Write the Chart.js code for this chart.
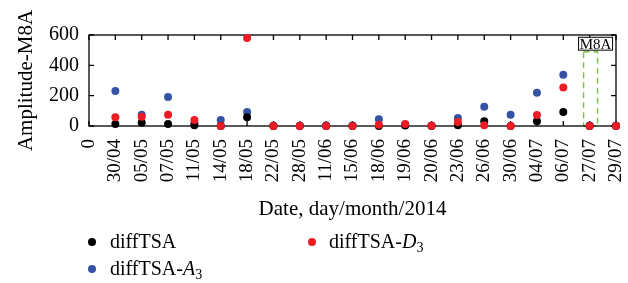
<!DOCTYPE html>
<html>
<head>
<meta charset="utf-8">
<script src="https://cdn.jsdelivr.net/npm/chart.js@4.4.1/dist/chart.umd.min.js"></script>
<style>
  html, body { margin: 0; padding: 0; background: #fff; }
  #wrap { position: relative; width: 628px; height: 283px; overflow: hidden; }
  canvas { position: absolute; left: 0; top: 0; }
  .lg { position: absolute; font: 20px/1 'Liberation Serif', 'Times New Roman', serif; color: #000; white-space: nowrap; }
  .dot { position: absolute; width: 8px; height: 8px; border-radius: 50%; }
  .sub { font-size: 14px; position: relative; top: 4px; }
</style>
</head>
<body>
<div id="wrap">
  <canvas id="c" width="628" height="283"></canvas>
  <div class="dot" style="left:88px;top:238px;background:#000;"></div>
  <div class="lg" style="left:110px;top:231px;">diffTSA</div>
  <div class="dot" style="left:308px;top:238px;background:#ed1c24;"></div>
  <div class="lg" style="left:329px;top:231px;">diffTSA-<i>D</i><span class="sub">3</span></div>
  <div class="dot" style="left:88px;top:265px;background:#3652a4;"></div>
  <div class="lg" style="left:110px;top:258px;">diffTSA-<i>A</i><span class="sub">3</span></div>
</div>
<script>
// ---- data ----
const categories = ['0','30/04','05/05','07/05','11/05','14/05','18/05','22/05','28/05','11/06','15/06',
                    '18/06','19/06','20/06','23/06','26/06','30/06','04/07','06/07','27/07','29/07'];
const diffTSA    = [null, 13, 22, 13, 5, 0, 57, 0, 0, 0, 0, 0, 3, 0, 5, 31, 0, 31, 92, 0, 0];
const diffTSA_D3 = [null, 57, 61, 74, 40, 0, 581, 0, 0, 0, 0, 9, 13, 2, 26, 5, 0, 72, 254, 0, 0];
const diffTSA_A3 = [null, 230, 74, 191, 18, 40, 92, 2, 2, 4, 3, 44, 8, 4, 53, 127, 74, 219, 338, 3, 1];
const yTicks = [0, 200, 400, 600];
const markerLabel = 'M8A';
const markerCategory = '27/07';

const serif = "'Liberation Serif', 'Times New Roman', serif";

const framePlugin = {
  id: 'frame',
  beforeDatasetsDraw(chart) {
    const { ctx, chartArea: { left, right, top, bottom }, scales: { x, y } } = chart;
    ctx.save();
    // annotation dashed box
    const ci = categories.indexOf(markerCategory);
    const x0 = x.getPixelForValue(ci - 0.23), x1 = x.getPixelForValue(ci + 0.3);
    const yt = y.getPixelForValue(490), yb = y.getPixelForValue(0);
    ctx.strokeStyle = '#7cc242';
    ctx.lineWidth = 1.4;
    ctx.setLineDash([6, 4]);
    ctx.strokeRect(x0, yt, x1 - x0, yb - yt);
    ctx.setLineDash([]);
    // frame
    ctx.strokeStyle = '#000';
    ctx.lineWidth = 1.3;
    ctx.strokeRect(left, top, right - left, bottom - top);
    ctx.beginPath();
    x.ticks.forEach((t, i) => {
      const px = x.getPixelForTick(i);
      ctx.moveTo(px, bottom); ctx.lineTo(px, bottom - 5);
      ctx.moveTo(px, top); ctx.lineTo(px, top + 5);
    });
    y.ticks.forEach((t, i) => {
      const py = y.getPixelForTick(i);
      ctx.moveTo(left, py); ctx.lineTo(left + 5, py);
      ctx.moveTo(right, py); ctx.lineTo(right - 5, py);
    });
    ctx.stroke();
    ctx.restore();
  },
  afterDatasetsDraw(chart) {
    const { ctx, scales: { x, y } } = chart;
    const ci = categories.indexOf(markerCategory);
    const bx0 = x.getPixelForValue(ci - 0.42), bx1 = x.getPixelForValue(ci + 0.87);
    const by0 = y.getPixelForValue(585), by1 = y.getPixelForValue(500);
    ctx.save();
    ctx.fillStyle = '#fff';
    ctx.fillRect(bx0, by0, bx1 - bx0, by1 - by0);
    ctx.strokeStyle = '#000';
    ctx.lineWidth = 1;
    ctx.strokeRect(bx0, by0, bx1 - bx0, by1 - by0);
    ctx.fillStyle = '#000';
    ctx.font = '15px ' + serif;
    ctx.textAlign = 'center';
    ctx.textBaseline = 'alphabetic';
    ctx.fillText(markerLabel, (bx0 + bx1) / 2, by1 - 1.5);
    ctx.restore();
  }
};

const common = { showLine: false, pointRadius: 4, pointHoverRadius: 4, pointBorderWidth: 0, clip: false };

new Chart(document.getElementById('c'), {
  type: 'line',
  data: {
    labels: categories,
    datasets: [
      { label: 'diffTSA', data: diffTSA, backgroundColor: '#000', borderColor: '#000', order: 1, ...common },
      { label: 'diffTSA-D3', data: diffTSA_D3, backgroundColor: '#ed1c24', borderColor: '#ed1c24', order: 0, ...common },
      { label: 'diffTSA-A3', data: diffTSA_A3, backgroundColor: '#3652a4', borderColor: '#3652a4', order: 2, ...common }
    ]
  },
  options: {
    responsive: false,
    animation: false,
    devicePixelRatio: 1,
    layout: { padding: { top: 35, right: 12, left: 0, bottom: 0 } },
    plugins: { legend: { display: false }, tooltip: { enabled: false } },
    scales: {
      x: {
        type: 'category',
        offset: false,
        grid: { display: false, drawTicks: false },
        border: { display: false },
        ticks: { autoSkip: false, minRotation: 90, maxRotation: 90, padding: 13, color: '#000',
                 font: { family: serif, size: 19 } },
        title: { display: true, text: 'Date, day/month/2014', color: '#000',
                 font: { family: serif, size: 21 }, padding: { top: 0, bottom: 61 } },
        afterFit(s) { s.height = 157; s.paddingLeft = 0; s.paddingRight = 0; }
      },
      y: {
        min: 0, max: 600,
        grid: { display: false, drawTicks: false },
        border: { display: false },
        afterBuildTicks(s) { s.ticks = yTicks.map(v => ({ value: v })); },
        ticks: { padding: 10, color: '#000', font: { family: serif, size: 20 } },
        title: { display: true, text: 'Amplitude-M8A', color: '#000',
                 font: { family: serif, size: 21 }, padding: { top: 14, bottom: 0 } },
        afterFit(s) { s.width = 89; s.paddingTop = 0; s.paddingBottom = 0; }
      }
    }
  },
  plugins: [framePlugin]
});
</script>
</body>
</html>
